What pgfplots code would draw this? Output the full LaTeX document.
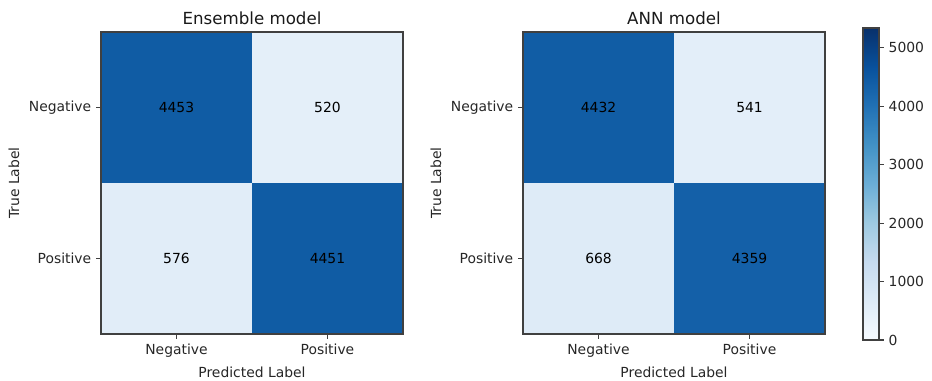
\documentclass[border=0pt]{standalone}
\usepackage{pgfplots}
\usepackage{pgfplotstable}
\pgfplotsset{compat=1.18}
\usepackage{fontspec}
\setmainfont{DejaVu Sans}

\pgfplotstableread{
x y c
0 0 4453
1 0 520
0 1 576
1 1 4451
}\ens
\pgfplotstableread{
x y c
0 0 4432
1 0 541
0 1 668
1 1 4359
}\ann

\pgfplotsset{
  cm/.style={
    scale only axis, width=217.44pt, height=217.44pt,
    xmin=-0.5, xmax=1.5, ymin=-0.5, ymax=1.5, y dir=reverse,
    enlargelimits=false, axis on top,
    xtick={0,1}, ytick={0,1},
    xticklabels={Negative,Positive}, yticklabels={Negative,Positive},
    tick pos=left, tick align=outside, major tick length=3.5pt,
    colormap={blues}{rgb255=(247,251,255) rgb255=(222,235,247) rgb255=(198,219,239) rgb255=(158,202,225) rgb255=(107,174,214) rgb255=(66,146,198) rgb255=(33,113,181) rgb255=(8,81,156) rgb255=(8,48,107)},
    point meta min=0, point meta max=5340,
    xlabel={Predicted Label}, ylabel={True Label},
    axis line style={black!75, line width=0.8pt},
    tick style={black!75, line width=0.8pt},
    ticklabel style={font=\fontsize{10}{12}\selectfont, text=black!85},
    label style={font=\fontsize{10}{12}\selectfont, text=black!85},
    title style={font=\fontsize{12}{14}\selectfont, text=black!90, yshift=-4pt},
  },
  cells/.style={matrix plot*, mesh/cols=2, point meta=explicit},
  vals/.style={only marks, mark=none, nodes near coords, point meta=explicit symbolic,
    every node near coord/.append style={anchor=center, font=\fontsize{10}{12}\selectfont, text=black}},
}

\begin{document}
\begin{tikzpicture}
\begin{axis}[cm, name=a1, at={(0pt,0pt)}, anchor=south west, title={Ensemble model}]
  \addplot[cells] table[x=x, y=y, meta=c] {\ens};
  \addplot[vals] table[x=x, y=y, meta=c] {\ens};
\end{axis}
\begin{axis}[cm, name=a2, at={(303.84pt,0pt)}, anchor=south west, title={ANN model},
  colorbar,
  colorbar style={
    scale only axis, width=11.52pt, height=224.64pt,
    at={(parent axis.north east)}, anchor=north west, xshift=18.8pt, yshift=2.88pt,
    ytick={0,1000,2000,3000,4000,5000}, scaled y ticks=false,
    ytick pos=right, yticklabel pos=right,
    yticklabel style={font=\fontsize{10}{12}\selectfont, text=black!85,
      /pgf/number format/assume math mode=true, /pgf/number format/1000 sep={}},
    tick align=outside, major tick length=3.5pt,
    axis line style={black!75, line width=0.8pt},
    tick style={black!75, line width=0.8pt},
  }]
  \addplot[cells] table[x=x, y=y, meta=c] {\ann};
  \addplot[vals] table[x=x, y=y, meta=c] {\ann};
\end{axis}
\pgfresetboundingbox
\path (-72.72pt,-33.12pt) rectangle (598.32pt,240.48pt);
\end{tikzpicture}
\end{document}
